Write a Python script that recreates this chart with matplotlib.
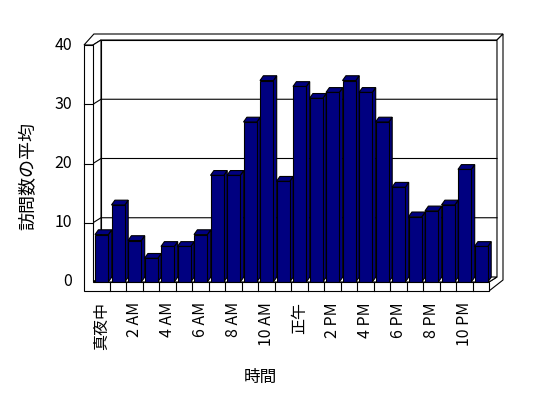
import matplotlib
matplotlib.use("Agg")
from matplotlib import pyplot as plt
from matplotlib.patches import Polygon

plt.rcParams['font.family'] = ['Noto Sans CJK JP', 'DejaVu Sans']

# average visits per hour (0..23)
hours = list(range(24))
visits = [8, 13, 7, 4, 6, 6, 8, 18, 18, 27, 34, 17,
          33, 31, 32, 34, 32, 27, 16, 11, 12, 13, 19, 6]
tick_hours = [0, 2, 4, 6, 8, 10, 12, 14, 16, 18, 20, 22]
tick_labels = ["真夜中", "2 AM", "4 AM", "6 AM", "8 AM", "10 AM",
               "正午", "2 PM", "4 PM", "6 PM", "8 PM", "10 PM"]
y_ticks = [0, 10, 20, 30, 40]

N = len(visits)
ymax = y_ticks[-1]
navy = "#000080"
lw = 0.8

# pixel scale of the drawing: 16.5 px per category, 5.925 px per unit
cpx, vpx = 16.5, 5.925
fig = plt.figure(figsize=(5.48, 3.98), dpi=100)
ax = fig.add_axes([0, 0, 1, 1])
ax.set_xlim(-93 / cpx, (548 - 93) / cpx)
ax.set_ylim(-(398 - 282) / vpx, 282 / vpx)
ax.axis("off")

# box geometry (category / value units)
tx = 9 / cpx        # wall thickness
ty = 9 / vpx        # floor thickness
ddx, ddy = 8 / cpx, 5 / vpx      # depth of the walls
rt, tt = 6 / cpx, 6 / vpx        # back wall rim
bdx, bdy = 3.4 / cpx, 4.8 / vpx  # depth of the bars
off, w = 2 / cpx, 13.3 / cpx


def poly(pts, z, fc="white"):
    ax.add_patch(Polygon(pts, closed=True, facecolor=fc, edgecolor="black",
                         linewidth=lw, zorder=z, joinstyle="miter"))


# back wall
poly([(ddx, ddy), (N + ddx, ddy), (N + ddx, ymax + ddy), (ddx, ymax + ddy)], 1)
# rim on top and right of the back wall, floor right side
poly([(-tx, ymax), (0, ymax), (ddx, ymax + ddy), (N + ddx, ymax + ddy),
      (N + ddx + rt, ymax + ddy + tt), (-tx + 0.6, ymax + ddy + tt)], 1)
poly([(N + ddx, ddy), (N + ddx, ymax + ddy), (N + ddx + rt, ymax + ddy + tt),
      (N + ddx + rt, -ty + 11 / vpx), (N, -ty), (N, 0)], 1)
# left wall inner face
poly([(0, 0), (ddx, ddy), (ddx, ymax + ddy), (0, ymax)], 1)
# floor top
poly([(0, 0), (N, 0), (N + ddx, ddy), (ddx, ddy)], 1)

# gridlines
for v in y_ticks[1:-1]:
    ax.plot([0, ddx, N + ddx], [v, v + ddy, v + ddy], color="black", lw=lw, zorder=2)
    ax.plot([-tx, 0], [v, v], color="black", lw=lw, zorder=6)

# bars
for h, v in zip(hours, visits):
    x = h + off
    ax.bar(x, v, width=w, align="edge", color=navy, edgecolor="black",
           linewidth=lw, zorder=4)
    poly([(x + w, 0), (x + w + bdx, bdy), (x + w + bdx, v + bdy), (x + w, v)], 3, navy)
    poly([(x, v), (x + w, v), (x + w + bdx, v + bdy), (x + bdx, v + bdy)], 3, navy)

# front face of floor + left wall
poly([(-tx, ymax), (0, ymax), (0, 0), (N, 0), (N, -ty), (-tx, -ty)], 5)
for h in hours[1:]:
    ax.plot([h, h], [0, -ty], color="black", lw=lw, zorder=6)

# labels
for v in y_ticks:
    ax.text(-tx - 0.72, v, str(v), ha="right", va="center", fontsize=11.5)
for h, lab in zip(tick_hours, tick_labels):
    ax.text(h + 0.5, -20 / vpx, lab, rotation=90, ha="center", va="top", fontsize=11.5)
ax.text((260 - 93) / cpx, -(377 - 282) / vpx, "時間", ha="center", va="center", fontsize=12)
ax.text(-65 / cpx, (282 - 176) / vpx, "訪問数の平均", rotation=90,
        ha="center", va="center", fontsize=13)

fig.savefig("out.png", dpi=100)
